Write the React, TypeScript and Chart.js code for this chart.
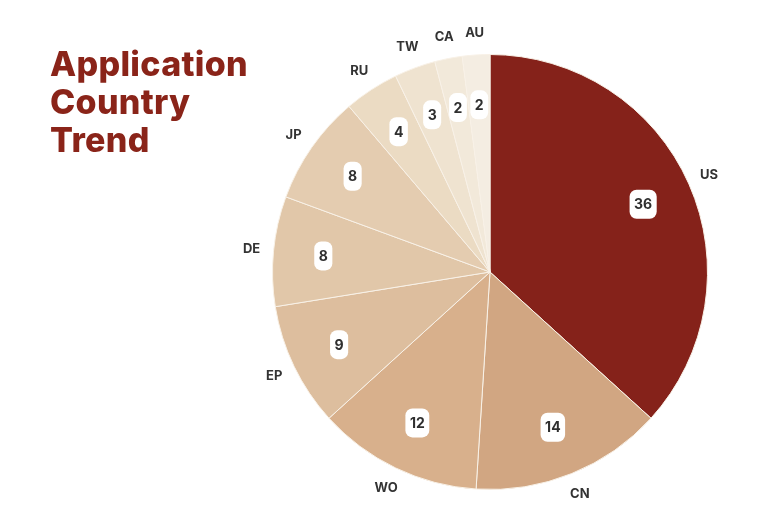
import React, { useEffect, useRef } from "react";
import { Chart, registerables } from "chart.js";

Chart.register(...registerables);

const countries = ["US", "CN", "WO", "EP", "DE", "JP", "RU", "TW", "CA", "AU"];
const counts = [36, 14, 12, 9, 8, 8, 4, 3, 2, 2];
const sliceColors = [
  "#85221A",
  "#D1A682",
  "#D8B08C",
  "#DDBE9E",
  "#E1C7A9",
  "#E4CCB0",
  "#EBDBC3",
  "#EFE3D0",
  "#F2E9DA",
  "#F4EDE2",
];
const titleLines = ["Application", "Country", "Trend"];

const labelPlugin = {
  id: "sliceLabels",
  afterDatasetsDraw(chart: any) {
    const ctx = chart.ctx;
    const meta = chart.getDatasetMeta(0);
    const data = chart.data.datasets[0].data;
    const labels = chart.data.labels;
    ctx.save();
    meta.data.forEach((arc: any, i: number) => {
      const { x, y, startAngle, endAngle, outerRadius } = arc.getProps(
        ["x", "y", "startAngle", "endAngle", "outerRadius"],
        true
      );
      const mid = (startAngle + endAngle) / 2;
      // value box
      const r1 = outerRadius * 0.77;
      const bx = x + Math.cos(mid) * r1;
      const by = y + Math.sin(mid) * r1;
      const txt = String(data[i]);
      ctx.font = "bold 14px Inter, 'Open Sans', sans-serif";
      const tw = ctx.measureText(txt).width;
      const w = Math.max(tw + 9, 15);
      const h = 29;
      ctx.fillStyle = "#ffffff";
      ctx.beginPath();
      (ctx as any).roundRect(bx - w / 2, by - h / 2, w, h, 7);
      ctx.fill();
      ctx.fillStyle = "#2f2f2f";
      ctx.textAlign = "center";
      ctx.textBaseline = "middle";
      ctx.fillText(txt, bx, by + 1);
      // outer label
      const r2 = outerRadius + 22;
      const lx = x + Math.cos(mid) * r2;
      const ly = y + Math.sin(mid) * r2;
      ctx.font = "bold 13px Inter, 'Open Sans', sans-serif";
      ctx.fillStyle = "#333333";
      ctx.fillText(String(labels[i]), lx, ly);
    });
    ctx.restore();
  },
};

export default function App() {
  const ref = useRef<HTMLCanvasElement | null>(null);
  useEffect(() => {
    document.body.style.margin = "0";
    const chart = new Chart(ref.current!, {
      type: "pie",
      data: {
        labels: countries,
        datasets: [
          {
            data: counts,
            backgroundColor: sliceColors,
            borderColor: "#F8F1E7",
            borderWidth: 1,
          },
        ],
      },
      options: {
        animation: false,
        responsive: false,
        layout: { padding: { left: 272, right: 60, top: 54, bottom: 37 } },
        plugins: { legend: { display: false }, tooltip: { enabled: false } },
      },
      plugins: [labelPlugin],
    });
    return () => chart.destroy();
  }, []);
  return (
    <div style={{ position: "relative", width: 768, height: 527, background: "#fff" }}>
      <canvas ref={ref} width={768} height={527} style={{ position: "absolute", left: 0, top: 0 }} />
      <div
        style={{
          position: "absolute",
          left: 50,
          top: 45,
          color: "#8A2419",
          fontFamily: "Inter, 'Open Sans', sans-serif",
          fontWeight: 800,
          fontSize: 34,
          letterSpacing: "0.3px",
          lineHeight: "38px",
        }}
      >
        {titleLines.map((t) => (
          <div key={t}>{t}</div>
        ))}
      </div>
    </div>
  );
}
